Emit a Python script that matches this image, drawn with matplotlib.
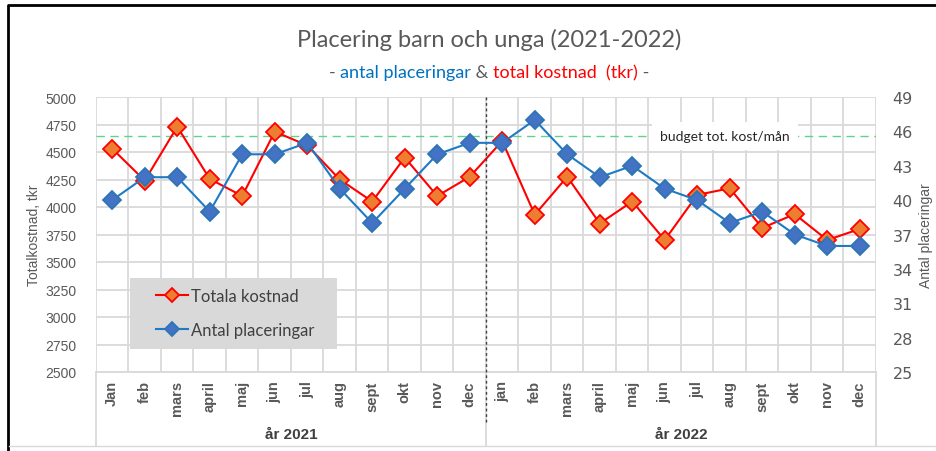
import matplotlib as mpl
mpl.use('Agg')
import matplotlib.pyplot as plt
from matplotlib.lines import Line2D
from matplotlib.patches import Rectangle
import numpy as np

# data
months = ['Jan', 'feb', 'mars', 'april', 'maj', 'jun', 'jul', 'aug', 'sept', 'okt', 'nov', 'dec',
          'jan', 'feb', 'mars', 'april', 'maj', 'jun', 'jul', 'aug', 'sept', 'okt', 'nov', 'dec']
years = ['år 2021', 'år 2022']
total_kostnad = [4530, 4240, 4730, 4255, 4100, 4685, 4560, 4250, 4050, 4450, 4100, 4275,
                 4600, 3930, 4275, 3850, 4050, 3700, 4110, 4170, 3810, 3935, 3700, 3800]
antal_plac = [40, 42, 42, 39, 44, 44, 45, 41, 38, 41, 44, 45,
              45, 47, 44, 42, 43, 41, 40, 38, 39, 37, 36, 36]
budget = 4645

narrow = ['Liberation Sans Narrow', 'Liberation Sans', 'DejaVu Sans']
title_font = ['Lato', 'DejaVu Sans']
grey = '#595959'
gridc = '#d9d9d9'

fig = plt.figure(figsize=(9.37, 4.52), dpi=100)
ax = fig.add_axes([96/937, 1-373/452, 780/937, 275/452])
ax2 = ax.twinx()

x = np.arange(len(months))

# gridlines at category boundaries
ax.set_xlim(-0.5, len(months) - 0.5)
ax.set_xticks(x)
ax.set_xticks(np.arange(-0.5, len(months)), minor=True)
ax.grid(True, which='minor', axis='x', color=gridc, lw=1.3)
ax.grid(True, which='major', axis='y', color=gridc, lw=1.3)
ax.set_axisbelow(True)
ax.tick_params(axis='x', which='both', length=0, pad=6)
ax.set_xticklabels(months, rotation=90, family='Liberation Sans', fontweight='bold',
                   fontsize=10.5, color=grey)

ax.set_ylim(2500, 5000)
ax.set_yticks(np.arange(2500, 5001, 250))
ax.tick_params(axis='y', length=0, pad=14, labelsize=10, labelcolor=grey)
for t in ax.get_yticklabels():
    t.set_family(narrow)
ax.set_ylabel('Totalkostnad, tkr', family=narrow, fontsize=10, color=grey, labelpad=3)

ax2.set_ylim(25, 49)
ax2.set_yticks(np.arange(25, 50, 3))
ax2.tick_params(axis='y', length=0, pad=12, labelsize=11.5, labelcolor=grey)
ax2.set_ylabel('Antal placeringar', family=narrow, fontsize=10, color=grey, labelpad=4)

for a in (ax, ax2):
    for s in a.spines.values():
        s.set_visible(False)
ax.spines['bottom'].set_visible(True)
ax.spines['bottom'].set_color(gridc)
ax.spines['bottom'].set_linewidth(1.3)

# budget line
ax.axhline(budget, color='#5fd38d', lw=1, ls=(0, (6, 4)), zorder=1.5)
ax.text(18.85, budget, 'budget tot. kost/mån', ha='center', va='center', fontsize=10,
        family=title_font, color='#262626', zorder=3,
        bbox=dict(facecolor='white', edgecolor='none', pad=6))

# series
l1, = ax.plot(x, total_kostnad, color='#ff0000', lw=1.5, marker='D', ms=9,
              mfc='#ed7d31', mec='#ff0000', mew=1.3, label='Totala kostnad', zorder=4)
l2, = ax2.plot(x, antal_plac, color='#1f7ac4', lw=1.5, marker='D', ms=9,
               mfc='#4472c4', mec='#2e75b6', mew=1.3, label='Antal placeringar', zorder=4)

# year divider
ax.plot([11.5, 11.5], [1, -0.18], transform=ax.get_xaxis_transform(), clip_on=False,
        color='#404040', lw=1, ls=(0, (2, 2)), zorder=5)
for b in [-0.5, 11.5, 23.5]:
    ax.plot([b, b], [0, -0.27], transform=ax.get_xaxis_transform(), clip_on=False,
            color=gridc, lw=1.3)
for i, yr in enumerate(years):
    ax.text(5.5 + 12 * i, -0.225, yr, transform=ax.get_xaxis_transform(), ha='center',
            va='center', family=narrow, fontsize=11, fontweight='bold', color='#404040')

# legend on a grey box
ax2.add_patch(Rectangle((130/937, 1-350/452), 207/937, 71/452, transform=fig.transFigure,
                        facecolor='#d9d9d9', edgecolor='none', zorder=9, clip_on=False))
leg = ax2.legend(handles=[l1, l2], loc='center left',
                 bbox_to_anchor=(156/937, 1-314/452), bbox_transform=fig.transFigure,
                 frameon=False, borderpad=0, labelspacing=1.05, handlelength=1.9,
                 handletextpad=0.2, markerscale=0.8, borderaxespad=0,
                 prop={'family': title_font, 'size': 12})
for t in leg.get_texts():
    t.set_color('#404040')
leg.set_zorder(10)

# titles
fig.text(489/937, 1-40/452, 'Placering barn och unga (2021-2022)', ha='center', va='center',
         family=title_font, fontsize=17, color=grey)

parts = [('- ', grey), ('antal placeringar', '#0070c0'), (' & ', grey),
         ('total kostnad  (tkr)', '#ff0000'), (' -', grey)]
fig.canvas.draw()
r = fig.canvas.get_renderer()
txts = []
for s, c in parts:
    txts.append(fig.text(0, 1-73/452, s, ha='left', va='center', family=title_font,
                         fontsize=13, color=c))
widths = [t.get_window_extent(r).width for t in txts]
xpos = 489 - sum(widths) / 2
for t, w in zip(txts, widths):
    t.set_x(xpos / 937)
    xpos += w

# frame
fig.add_artist(Line2D([8/937, 8/937, 1], [0, 1-6/452, 1-6/452], transform=fig.transFigure,
                      color='black', lw=2))
fig.add_artist(Line2D([9/937, 1], [1-447/452, 1-447/452], transform=fig.transFigure,
                      color=gridc, lw=1))

fig.savefig('out.png', dpi=100)
